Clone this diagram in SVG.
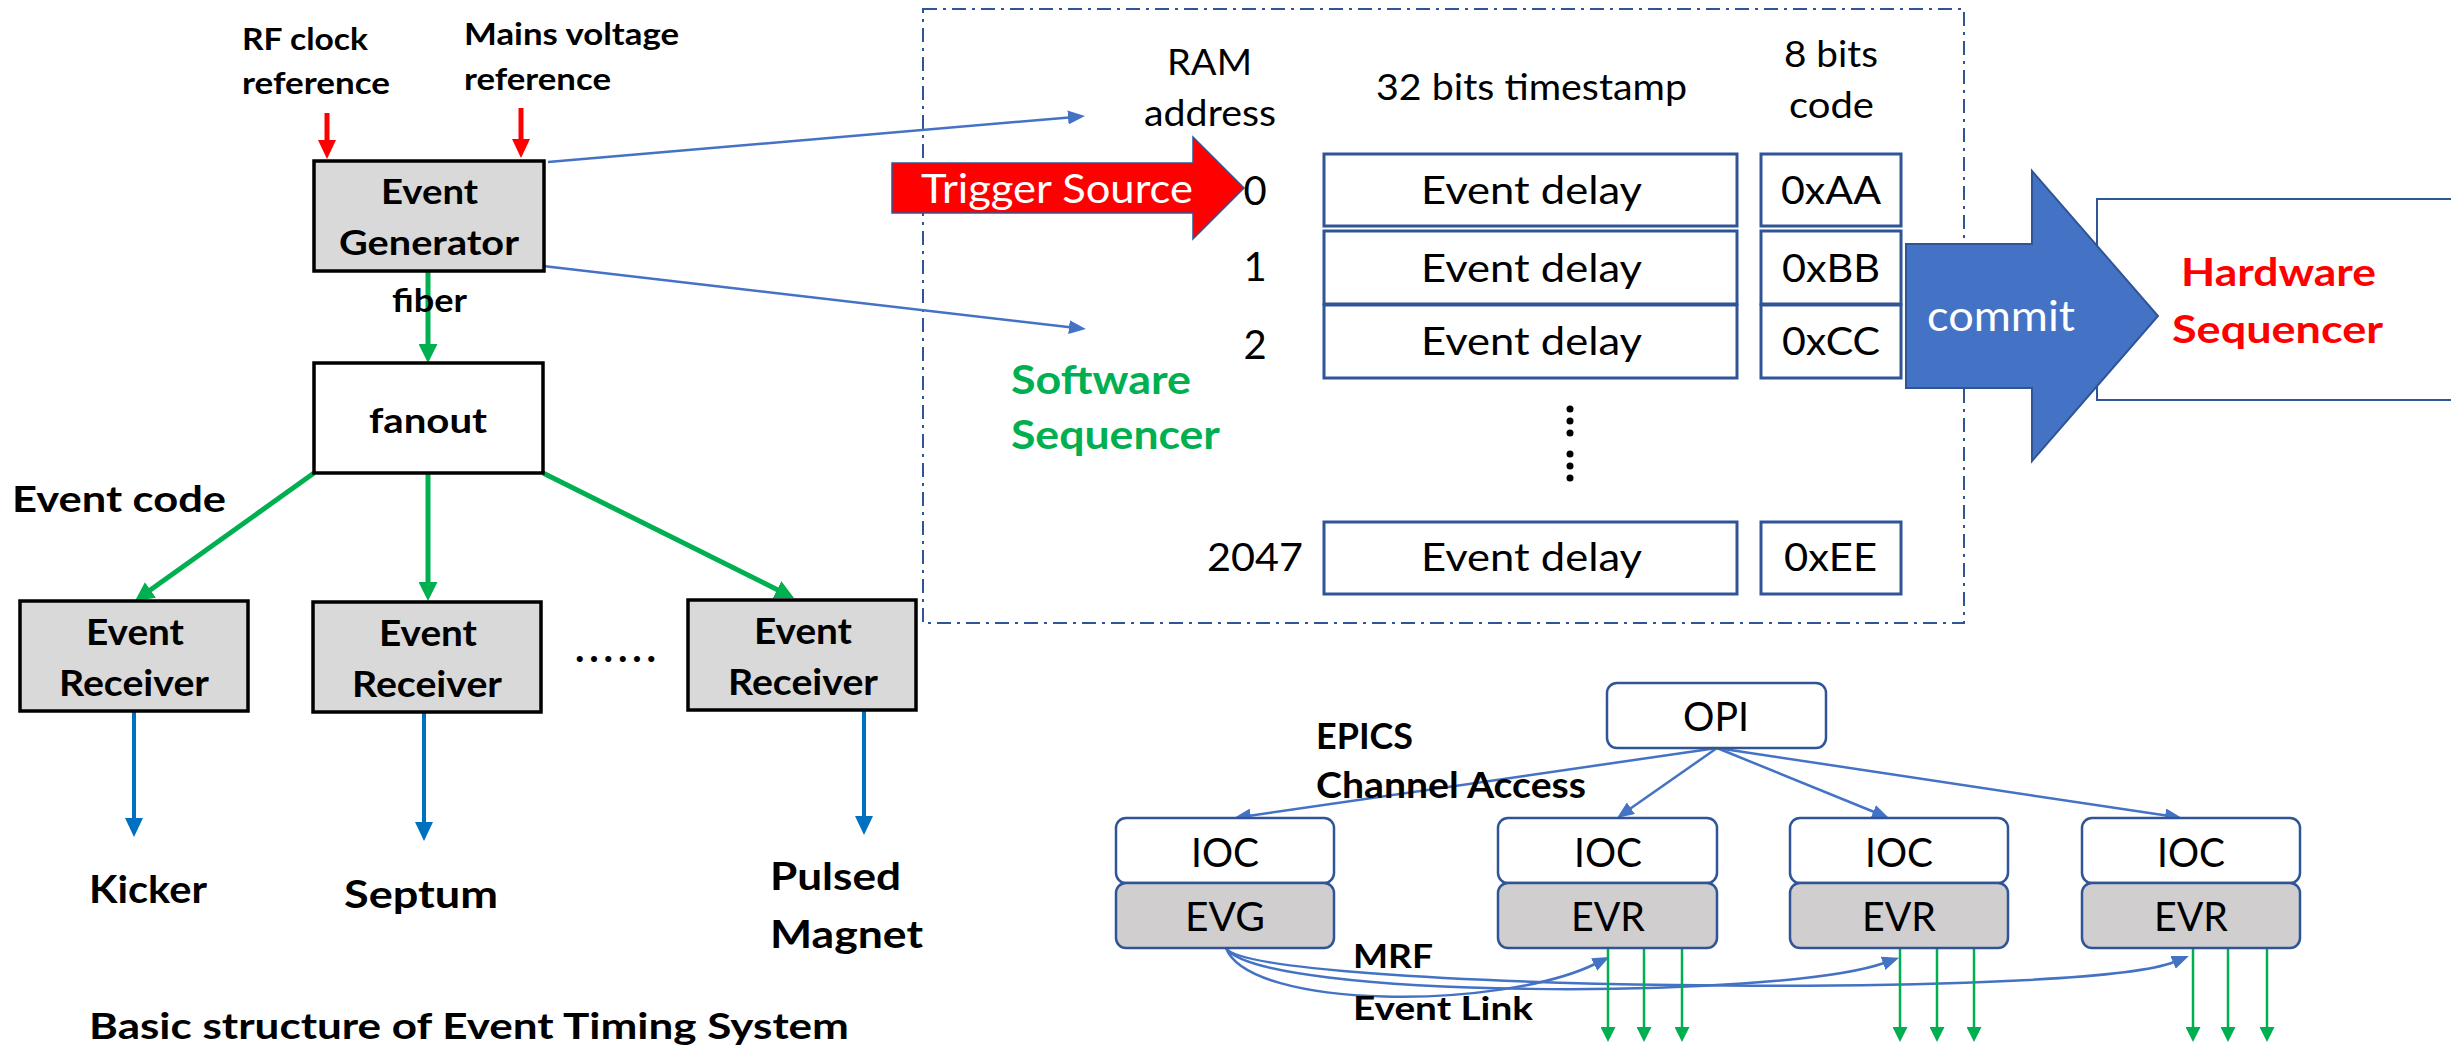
<svg xmlns="http://www.w3.org/2000/svg" width="2451" height="1049" viewBox="0 0 2451 1049">
<style>
text{font-family:Lato,"Liberation Sans",sans-serif;fill:#000}
.b{font-weight:bold}
.r{font-weight:normal}
.m{text-anchor:middle}
.box{fill:#d9d9d9;stroke:#000;stroke-width:3.5}
.wbox{fill:#fff;stroke:#000;stroke-width:3.5}
.ram{fill:#fff;stroke:#2f5597;stroke-width:3}
.rr{fill:#fff;stroke:#2f5597;stroke-width:2.5}
.rg{fill:#d0cece;stroke:#2f5597;stroke-width:2.5}
.lb{stroke:#4472c4;stroke-width:2.5;fill:none}
.lg{stroke:#00b050;stroke-width:5;fill:none}
.lgs{stroke:#00b050;stroke-width:2.5;fill:none}
.lr{stroke:#ff0000;stroke-width:5;fill:none}
.ld{stroke:#0070c0;stroke-width:4;fill:none}
.w{fill:#fff}
.gr{fill:#00b050}
.rd{fill:#ff0000}
</style>
<defs>
<marker id="mr" markerUnits="userSpaceOnUse" markerWidth="19" markerHeight="18" refX="1" refY="9" orient="auto"><path d="M0,0 L19,9 L0,18 z" fill="#ff0000"/></marker>
<marker id="mg" markerUnits="userSpaceOnUse" markerWidth="19" markerHeight="19" refX="1" refY="9.5" orient="auto"><path d="M0,0 L19,9.5 L0,19 z" fill="#00b050"/></marker>
<marker id="md" markerUnits="userSpaceOnUse" markerWidth="19" markerHeight="18" refX="1" refY="9" orient="auto"><path d="M0,0 L19,9 L0,18 z" fill="#0070c0"/></marker>
<marker id="mb" markerUnits="userSpaceOnUse" markerWidth="17" markerHeight="14" refX="1" refY="7" orient="auto"><path d="M0,0 L17,7 L0,14 z" fill="#4472c4"/></marker>
<marker id="mgs" markerUnits="userSpaceOnUse" markerWidth="15" markerHeight="15" refX="1" refY="7.5" orient="auto"><path d="M0,0 L15,7.5 L0,15 z" fill="#00b050"/></marker>
</defs>

<rect id="sequencer-frame" x="923" y="9" width="1041" height="614" fill="none" stroke="#2f5597" stroke-width="2" stroke-dasharray="14 6 3 6"/>

<g id="connectors">
<line class="lr" x1="327" y1="113" x2="327" y2="141" marker-end="url(#mr)"/>
<line class="lr" x1="521" y1="108" x2="521" y2="140" marker-end="url(#mr)"/>
<line class="lg" x1="428" y1="271" x2="428" y2="345" marker-end="url(#mg)"/>
<line class="lg" x1="314" y1="473" x2="149.6" y2="590.5" marker-end="url(#mg)"/>
<line class="lg" x1="428" y1="473" x2="428" y2="583" marker-end="url(#mg)"/>
<line class="lg" x1="543" y1="473" x2="777.9" y2="590" marker-end="url(#mg)"/>
<line class="ld" x1="134" y1="711" x2="134" y2="819" marker-end="url(#md)"/>
<line class="ld" x1="424" y1="712" x2="424" y2="823" marker-end="url(#md)"/>
<line class="ld" x1="864" y1="710" x2="864" y2="817" marker-end="url(#md)"/>
<line class="lb" x1="548" y1="162" x2="1069" y2="117.4" marker-end="url(#mb)"/>
<line class="lb" x1="543" y1="266" x2="1070" y2="327.2" marker-end="url(#mb)"/>
<line class="lb" x1="1717" y1="748" x2="1249.8" y2="815.7" marker-end="url(#mb)"/>
<line class="lb" x1="1717" y1="748" x2="1630.1" y2="808.8" marker-end="url(#mb)"/>
<line class="lb" x1="1717" y1="748" x2="1874.2" y2="812" marker-end="url(#mb)"/>
<line class="lb" x1="1717" y1="748" x2="2166.2" y2="815.6" marker-end="url(#mb)"/>
<path class="lb" d="M1226,948 C1250,1010 1500,1010 1595,964" marker-end="url(#mb)"/>
<path class="lb" d="M1226,948 C1260,1000 1780,1000 1884,963" marker-end="url(#mb)"/>
<path class="lb" d="M1226,948 C1250,990 2080,1000 2174,962" marker-end="url(#mb)"/>
<line class="lgs" x1="1608" y1="948" x2="1608" y2="1028" marker-end="url(#mgs)"/>
<line class="lgs" x1="1644" y1="948" x2="1644" y2="1028" marker-end="url(#mgs)"/>
<line class="lgs" x1="1682" y1="948" x2="1682" y2="1028" marker-end="url(#mgs)"/>
<line class="lgs" x1="1900" y1="948" x2="1900" y2="1028" marker-end="url(#mgs)"/>
<line class="lgs" x1="1937" y1="948" x2="1937" y2="1028" marker-end="url(#mgs)"/>
<line class="lgs" x1="1974" y1="948" x2="1974" y2="1028" marker-end="url(#mgs)"/>
<line class="lgs" x1="2193" y1="948" x2="2193" y2="1028" marker-end="url(#mgs)"/>
<line class="lgs" x1="2228" y1="948" x2="2228" y2="1028" marker-end="url(#mgs)"/>
<line class="lgs" x1="2267" y1="948" x2="2267" y2="1028" marker-end="url(#mgs)"/>
</g>

<g id="rf-clock-label"><text class="b" x="242" y="50" font-size="30" textLength="126" lengthAdjust="spacingAndGlyphs">RF clock</text><text class="b" x="242" y="94" font-size="30" textLength="148" lengthAdjust="spacingAndGlyphs">reference</text></g>
<g id="mains-label"><text class="b" x="464" y="45" font-size="30" textLength="215" lengthAdjust="spacingAndGlyphs">Mains voltage</text><text class="b" x="464" y="90" font-size="30" textLength="147" lengthAdjust="spacingAndGlyphs">reference</text></g>
<g id="event-generator"><rect class="box" x="314" y="161" width="230" height="110"/><text class="b" x="381" y="204" font-size="34" textLength="97" lengthAdjust="spacingAndGlyphs">Event</text><text class="b" x="339" y="255" font-size="34" textLength="180" lengthAdjust="spacingAndGlyphs">Generator</text></g>
<text class="b" x="392" y="312" font-size="33" textLength="75" lengthAdjust="spacingAndGlyphs">fiber</text>
<g id="fanout"><rect class="wbox" x="314" y="363" width="229" height="110"/><text class="b" x="369" y="433" font-size="35" textLength="118" lengthAdjust="spacingAndGlyphs">fanout</text></g>
<text class="b" x="12" y="512" font-size="36" textLength="214" lengthAdjust="spacingAndGlyphs">Event code</text>
<g id="event-receiver-1"><rect class="box" x="20" y="601" width="228" height="110"/><text class="b" x="86" y="645" font-size="36" textLength="98" lengthAdjust="spacingAndGlyphs">Event</text><text class="b" x="59" y="696" font-size="36" textLength="150" lengthAdjust="spacingAndGlyphs">Receiver</text></g>
<g id="event-receiver-2"><rect class="box" x="313" y="602" width="228" height="110"/><text class="b" x="379" y="646" font-size="36" textLength="98" lengthAdjust="spacingAndGlyphs">Event</text><text class="b" x="352" y="697" font-size="36" textLength="150" lengthAdjust="spacingAndGlyphs">Receiver</text></g>
<g id="event-receiver-3"><rect class="box" x="688" y="600" width="228" height="110"/><text class="b" x="754" y="644" font-size="36" textLength="98" lengthAdjust="spacingAndGlyphs">Event</text><text class="b" x="728" y="695" font-size="36" textLength="150" lengthAdjust="spacingAndGlyphs">Receiver</text></g>
<text class="b" x="575" y="662" font-size="40" textLength="81" lengthAdjust="spacing">......</text>
<text id="kicker" class="b" x="89" y="903" font-size="38" textLength="118" lengthAdjust="spacingAndGlyphs">Kicker</text>
<text id="septum" class="b" x="344" y="908" font-size="38" textLength="154" lengthAdjust="spacingAndGlyphs">Septum</text>
<g id="pulsed-magnet"><text class="b" x="770" y="890" font-size="38" textLength="131" lengthAdjust="spacingAndGlyphs">Pulsed</text><text class="b" x="770" y="948" font-size="38" textLength="153" lengthAdjust="spacingAndGlyphs">Magnet</text></g>
<text class="b" x="89" y="1039" font-size="36" textLength="760" lengthAdjust="spacingAndGlyphs">Basic structure of Event Timing System</text>

<g id="trigger-source"><path d="M892,163 L1193,163 L1193,137 L1244,188 L1193,239 L1193,213 L892,213 z" fill="#ff0000" stroke="#2f5597" stroke-width="1.5"/><text class="r w" x="921" y="203" font-size="40" textLength="272" lengthAdjust="spacingAndGlyphs">Trigger Source</text></g>
<g id="ram-header"><text class="r" x="1167" y="75" font-size="36" textLength="85" lengthAdjust="spacingAndGlyphs">RAM</text><text class="r" x="1144" y="126" font-size="36" textLength="132" lengthAdjust="spacingAndGlyphs">address</text></g>
<text class="r" x="1376" y="100" font-size="36" textLength="311" lengthAdjust="spacingAndGlyphs">32 bits timestamp</text>
<g id="code-header"><text class="r" x="1784" y="67" font-size="36" textLength="94" lengthAdjust="spacingAndGlyphs">8 bits</text><text class="r" x="1789" y="118" font-size="36" textLength="85" lengthAdjust="spacingAndGlyphs">code</text></g>
<text class="r m" x="1255" y="205" font-size="40">0</text>
<text class="r m" x="1255" y="281" font-size="40">1</text>
<text class="r m" x="1255" y="359" font-size="40">2</text>
<text class="r" x="1207" y="571" font-size="38" textLength="96" lengthAdjust="spacingAndGlyphs">2047</text>
<g id="row-0"><rect class="ram" x="1324" y="154" width="413" height="72"/><text class="r" x="1421" y="204" font-size="38" textLength="221" lengthAdjust="spacingAndGlyphs">Event delay</text><rect class="ram" x="1761" y="154" width="140" height="72"/><text class="r" x="1781" y="204" font-size="38" textLength="100" lengthAdjust="spacingAndGlyphs">0xAA</text></g>
<g id="row-1"><rect class="ram" x="1324" y="231" width="413" height="73"/><text class="r" x="1421" y="282" font-size="38" textLength="221" lengthAdjust="spacingAndGlyphs">Event delay</text><rect class="ram" x="1761" y="231" width="140" height="73"/><text class="r" x="1782" y="282" font-size="38" textLength="98" lengthAdjust="spacingAndGlyphs">0xBB</text></g>
<g id="row-2"><rect class="ram" x="1324" y="305" width="413" height="73"/><text class="r" x="1421" y="355" font-size="38" textLength="221" lengthAdjust="spacingAndGlyphs">Event delay</text><rect class="ram" x="1761" y="305" width="140" height="73"/><text class="r" x="1782" y="355" font-size="38" textLength="98" lengthAdjust="spacingAndGlyphs">0xCC</text></g>
<g id="vdots" fill="#000"><circle cx="1570" cy="409" r="3.5"/><circle cx="1570" cy="421" r="3.5"/><circle cx="1570" cy="433" r="3.5"/><circle cx="1570" cy="454" r="3.5"/><circle cx="1570" cy="466" r="3.5"/><circle cx="1570" cy="478" r="3.5"/></g>
<g id="row-2047"><rect class="ram" x="1324" y="522" width="413" height="72"/><text class="r" x="1421" y="571" font-size="38" textLength="221" lengthAdjust="spacingAndGlyphs">Event delay</text><rect class="ram" x="1761" y="522" width="140" height="72"/><text class="r" x="1784" y="571" font-size="38" textLength="93" lengthAdjust="spacingAndGlyphs">0xEE</text></g>
<g id="software-sequencer"><text class="b gr" x="1011" y="394" font-size="40" textLength="180" lengthAdjust="spacingAndGlyphs">Software</text><text class="b gr" x="1011" y="449" font-size="40" textLength="209" lengthAdjust="spacingAndGlyphs">Sequencer</text></g>

<g id="hardware-sequencer"><rect x="2097" y="199" width="370" height="201" fill="#fff" stroke="#2f5597" stroke-width="2"/><text class="b rd" x="2181" y="286" font-size="39" textLength="195" lengthAdjust="spacingAndGlyphs">Hardware</text><text class="b rd" x="2172" y="343" font-size="39" textLength="211" lengthAdjust="spacingAndGlyphs">Sequencer</text></g>
<g id="commit"><path d="M1906,244 L2032,244 L2032,171 L2158,316 L2032,461 L2032,388 L1906,388 z" fill="#4472c4" stroke="#2f5597" stroke-width="2"/><text class="r w" x="1927" y="331" font-size="42" textLength="148" lengthAdjust="spacingAndGlyphs">commit</text></g>

<g id="opi"><rect class="rr" x="1607" y="683" width="219" height="65" rx="10"/><text class="r" x="1683" y="731" font-size="40" textLength="66" lengthAdjust="spacingAndGlyphs">OPI</text></g>
<g id="epics-label"><text class="b" x="1316" y="749" font-size="36" textLength="97" lengthAdjust="spacingAndGlyphs">EPICS</text><text class="b" x="1316" y="798" font-size="36" textLength="270" lengthAdjust="spacingAndGlyphs">Channel Access</text></g>
<g id="ioc-evg"><rect class="rr" x="1116" y="818" width="218" height="65" rx="10"/><text class="r" x="1191" y="867" font-size="40" textLength="68" lengthAdjust="spacingAndGlyphs">IOC</text><rect class="rg" x="1116" y="883" width="218" height="65" rx="10"/><text class="r" x="1185" y="931" font-size="40" textLength="80" lengthAdjust="spacingAndGlyphs">EVG</text></g>
<g id="ioc-evr-1"><rect class="rr" x="1498" y="818" width="219" height="65" rx="10"/><text class="r" x="1574" y="867" font-size="40" textLength="68" lengthAdjust="spacingAndGlyphs">IOC</text><rect class="rg" x="1498" y="883" width="219" height="65" rx="10"/><text class="r" x="1571" y="931" font-size="40" textLength="74" lengthAdjust="spacingAndGlyphs">EVR</text></g>
<g id="ioc-evr-2"><rect class="rr" x="1790" y="818" width="218" height="65" rx="10"/><text class="r" x="1865" y="867" font-size="40" textLength="68" lengthAdjust="spacingAndGlyphs">IOC</text><rect class="rg" x="1790" y="883" width="218" height="65" rx="10"/><text class="r" x="1862" y="931" font-size="40" textLength="74" lengthAdjust="spacingAndGlyphs">EVR</text></g>
<g id="ioc-evr-3"><rect class="rr" x="2082" y="818" width="218" height="65" rx="10"/><text class="r" x="2157" y="867" font-size="40" textLength="68" lengthAdjust="spacingAndGlyphs">IOC</text><rect class="rg" x="2082" y="883" width="218" height="65" rx="10"/><text class="r" x="2154" y="931" font-size="40" textLength="74" lengthAdjust="spacingAndGlyphs">EVR</text></g>
<g id="mrf-label"><text class="b" x="1353" y="968" font-size="33" textLength="80" lengthAdjust="spacingAndGlyphs">MRF</text><text class="b" x="1353" y="1020" font-size="33" textLength="180" lengthAdjust="spacingAndGlyphs">Event Link</text></g>
</svg>
